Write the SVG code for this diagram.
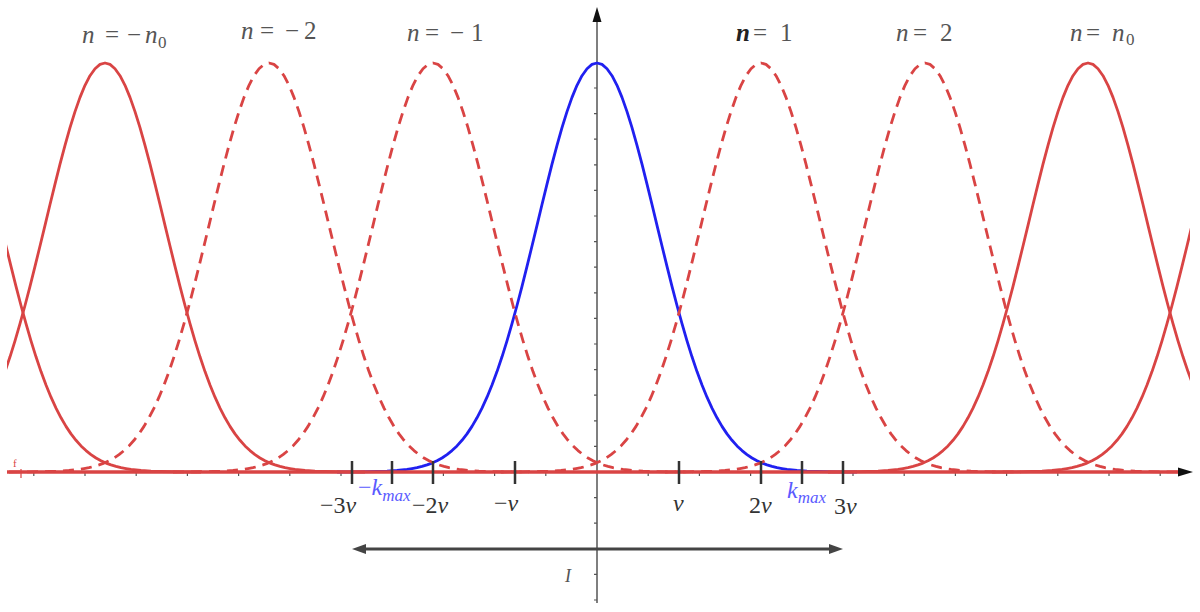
<svg xmlns="http://www.w3.org/2000/svg" xmlns:xlink="http://www.w3.org/1999/xlink" width="1200" height="612" viewBox="0 0 1200 612">
<style>
.curve{fill:none;stroke-width:2.8;stroke-linejoin:round}
.red{stroke:#d94444}
.blue{stroke:#2020f0}
.dash{stroke-dasharray:11 7}
.minor{stroke:#555;stroke-width:1.2;fill:none}
.major{stroke:#333;stroke-width:2.5;fill:none}
text{font-family:'Liberation Serif','Times New Roman','DejaVu Serif',serif}
.lbl{font-size:25px;fill:#555}
.tl{font-size:24px;fill:#333}
.it{font-style:italic}
.km{font-size:24px;fill:#5a5aff;font-style:italic}
</style>
<defs>
<clipPath id="clip"><rect x="7" y="0" width="1183" height="612"/></clipPath>
<path id="g" d="M-260,472 L-240,471.9 -220,471.5 -210,471.2 -200,470.5 -195,470 -190,469.4 -185,468.6 -180,467.7 -175,466.4 -170,464.9 -165,463.1 -160,460.8 -155,458 -150,454.6 -145,450.6 -140,445.9 -135,440.3 -130,433.9 -125,426.4 -120,417.8 -115,408.1 -110,397.2 -105,385 -100,371.6 -95,356.8 -90,340.8 -85,323.7 -80,305.5 -75,286.3 -70,266.4 -65,246 -60,225.3 -55,204.5 -50,184.1 -45,164.2 -40,145.3 -35,127.6 -30,111.6 -25,97.4 -20,85.3 -15,75.7 -10,68.7 -5,64.4 0,63 5,64.4 10,68.7 15,75.7 20,85.3 25,97.4 30,111.6 35,127.6 40,145.3 45,164.2 50,184.1 55,204.5 60,225.3 65,246 70,266.4 75,286.3 80,305.5 85,323.7 90,340.8 95,356.8 100,371.6 105,385 110,397.2 115,408.1 120,417.8 125,426.4 130,433.9 135,440.3 140,445.9 145,450.6 150,454.6 155,458 160,460.8 165,463.1 170,464.9 175,466.4 180,467.7 185,468.6 190,469.4 195,470 200,470.5 210,471.2 220,471.5 240,471.9 260,472"/>
<marker id="ah" markerUnits="userSpaceOnUse" markerWidth="14" markerHeight="10" refX="4" refY="5" orient="auto-start-reverse" viewBox="0 0 14 10">
<path d="M0,0 L14,5 L0,10 z" fill="#444"/>
</marker>
</defs>
<rect width="1200" height="612" fill="#fff"/>

<g id="axes">
<line x1="597" y1="20" x2="597" y2="603" stroke="#555" stroke-width="1.5"/>
<polygon points="597,7 592.5,22 601.5,22" fill="#111"/>
<path class="minor" d="M33.8,472v4M85,472v4M136.2,472v4M187.4,472v4M238.6,472v4M289.8,472v4M341,472v4M392.2,472v4M443.4,472v4M494.6,472v4M545.8,472v4M648.2,472v4M699.4,472v4M750.6,472v4M801.8,472v4M853,472v4M904.2,472v4M955.4,472v4M1006.6,472v4M1057.8,472v4M1109,472v4M1160.2,472v4"/>
<path class="minor" d="M594,88h3M594,113.6h3M594,139.2h3M594,164.8h3M594,190.4h3M594,216h3M594,241.6h3M594,267.2h3M594,292.8h3M594,318.4h3M594,344h3M594,369.6h3M594,395.2h3M594,420.8h3M594,446.4h3M594,497.6h3M594,523.2h3M594,548.8h3M594,574.4h3M594,600h3"/>
</g>

<g id="curves" clip-path="url(#clip)">
<g id="curve-n-0"><use xlink:href="#g" href="#g" class="curve blue" transform="translate(597,0)"/></g>
<line id="axis-line" x1="7" y1="472" x2="1182" y2="472" stroke="#d94444" stroke-width="3.5"/>
<g id="curve-n-m4"><use xlink:href="#g" href="#g" class="curve red" transform="translate(-59,0)"/></g>
<g id="curve-n-m3"><use xlink:href="#g" href="#g" class="curve red" transform="translate(105,0)"/></g>
<g id="curve-n-m2"><use xlink:href="#g" href="#g" class="curve red dash" transform="translate(269,0)"/></g>
<g id="curve-n-m1"><use xlink:href="#g" href="#g" class="curve red dash" transform="translate(433,0)"/></g>
<g id="curve-n-1"><use xlink:href="#g" href="#g" class="curve red dash" transform="translate(761,0)"/></g>
<g id="curve-n-2"><use xlink:href="#g" href="#g" class="curve red dash" transform="translate(925,0)"/></g>
<g id="curve-n-3"><use xlink:href="#g" href="#g" class="curve red" transform="translate(1088,0)"/></g>
<g id="curve-n-4"><use xlink:href="#g" href="#g" class="curve red" transform="translate(1252,0)"/></g>
</g>
<g id="axis-end">
<polygon points="1193,472 1178,467.5 1178,476.5" fill="#111"/>
<line x1="21" y1="469" x2="21" y2="478" stroke="#d94444" stroke-width="1.2"/>
<text x="13" y="467" font-size="11" fill="#d94444">f</text>
</g>

<g id="ticks">
<path class="major" d="M352,461v23M392,461v23M433,461v23M515,461v23M679,461v23M761,461v23M802,461v23M843,461v23"/>
</g>

<g id="tick-labels">
<text class="tl" x="320" y="513">−3<tspan class="it">ν</tspan></text>
<text class="km" x="358" y="495"><tspan font-style="normal">−</tspan>k<tspan font-size="17" dy="6">max</tspan></text>
<text class="tl" x="412" y="513">−2<tspan class="it">ν</tspan></text>
<text class="tl" x="494" y="511">−<tspan class="it">ν</tspan></text>
<text class="tl it" x="673" y="511">ν</text>
<text class="tl" x="749" y="513">2<tspan class="it">ν</tspan></text>
<text class="km" x="787" y="498">k<tspan font-size="17" dy="5">max</tspan></text>
<text class="tl" x="834" y="514">3<tspan class="it">ν</tspan></text>
</g>

<g id="n-labels">
<text class="lbl" y="43"><tspan class="it" x="82">n</tspan><tspan x="105">=</tspan><tspan x="127">−</tspan><tspan class="it" x="145">n</tspan><tspan x="158" dy="5" font-size="17">0</tspan></text>
<text class="lbl" y="39"><tspan class="it" x="241">n</tspan><tspan x="260">=</tspan><tspan x="285">−</tspan><tspan x="304">2</tspan></text>
<text class="lbl" y="41"><tspan class="it" x="407">n</tspan><tspan x="425">=</tspan><tspan x="450">−</tspan><tspan x="471">1</tspan></text>
<text class="lbl" y="41"><tspan class="it" x="736" font-weight="bold" fill="#222">n</tspan><tspan x="753">=</tspan><tspan x="780">1</tspan></text>
<text class="lbl" y="41"><tspan class="it" x="896">n</tspan><tspan x="913">=</tspan><tspan x="940">2</tspan></text>
<text class="lbl" y="41"><tspan class="it" x="1070">n</tspan><tspan x="1086">=</tspan><tspan class="it" x="1112">n</tspan><tspan x="1126" dy="4" font-size="17">0</tspan></text>
</g>

<g id="connectors">
<line x1="362" y1="549" x2="833" y2="549" stroke="#444" stroke-width="3" marker-start="url(#ah)" marker-end="url(#ah)"/>
</g>
<g id="interval-label">
<text x="565" y="582" font-size="18" font-style="italic" fill="#555">I</text>
</g>
</svg>
